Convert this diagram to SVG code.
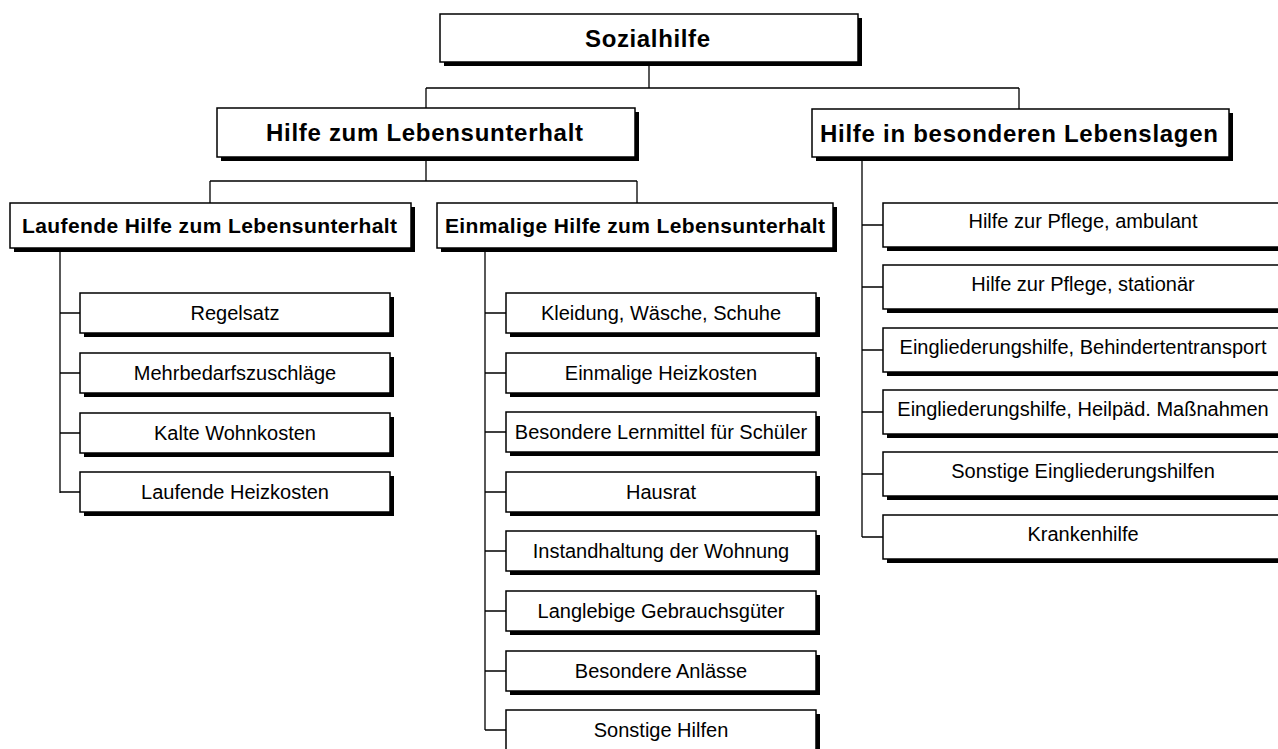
<svg xmlns="http://www.w3.org/2000/svg" width="1278" height="749" viewBox="0 0 1278 749">
<style>
.box{fill:#fff;stroke:#000;stroke-width:1.5}
.sh{fill:#000}
.t{font-family:"Liberation Sans",Arial,sans-serif;fill:#000;text-anchor:middle}
.b{font-weight:bold}
.c{font-size:20px}
.con{fill:none;stroke:#000;stroke-width:1.3}
</style>
<rect width="1278" height="749" fill="#fff"/>
<g id="connectors">
<path class="con" d="M649 62V88M426 88H1019M426 88V108M1019 88V109"/>
<path class="con" d="M426 157V181M210 181H637M210 181V203M637 181V203"/>
<path class="con" d="M60 248V493M60 313H80M60 373H80M60 433H80M60 492H80"/>
<path class="con" d="M485 248V730M485 313H506M485 373H506M485 432H506M485 492H506M485 551H506M485 611H506M485 671H506M485 730H506"/>
<path class="con" d="M862 157V537M862 225H883M862 287H883M862 350H883M862 412H883M862 474H883M862 537H883"/>
</g>
<g id="n-sozialhilfe">
<rect class="sh" x="444" y="18" width="418" height="48"/>
<rect class="box" x="440" y="14" width="418" height="48"/>
<text class="t b" x="647.5" y="47" font-size="24" textLength="125" lengthAdjust="spacing">Sozialhilfe</text>
</g>
<g id="n-hzl">
<rect class="sh" x="221" y="112" width="418" height="49"/>
<rect class="box" x="217" y="108" width="418" height="49"/>
<text class="t b" x="424.5" y="141" font-size="24" textLength="317" lengthAdjust="spacing">Hilfe zum Lebensunterhalt</text>
</g>
<g id="n-hbl">
<rect class="sh" x="816" y="113" width="417" height="48"/>
<rect class="box" x="812" y="109" width="417" height="48"/>
<text class="t b" x="1019" y="141.5" font-size="24" textLength="398" lengthAdjust="spacing">Hilfe in besonderen Lebenslagen</text>
</g>
<g id="n-laufende">
<rect class="sh" x="14" y="207" width="401" height="45"/>
<rect class="box" x="10" y="203" width="401" height="45"/>
<text class="t b" x="209.5" y="233" font-size="21" textLength="375" lengthAdjust="spacing">Laufende Hilfe zum Lebensunterhalt</text>
</g>
<g id="n-einmalige">
<rect class="sh" x="441" y="207" width="396" height="45"/>
<rect class="box" x="437" y="203" width="396" height="45"/>
<text class="t b" x="635" y="233" font-size="21" textLength="380" lengthAdjust="spacing">Einmalige Hilfe zum Lebensunterhalt</text>
</g>
<g id="n-regelsatz"><rect class="sh" x="84" y="297" width="310" height="40"/><rect class="box" x="80" y="293" width="310" height="40"/><text class="t c" x="235" y="320">Regelsatz</text></g>
<g id="n-mehrbedarf"><rect class="sh" x="84" y="357" width="310" height="40"/><rect class="box" x="80" y="353" width="310" height="40"/><text class="t c" x="235" y="380">Mehrbedarfszuschläge</text></g>
<g id="n-kalte"><rect class="sh" x="84" y="417" width="310" height="40"/><rect class="box" x="80" y="413" width="310" height="40"/><text class="t c" x="235" y="440">Kalte Wohnkosten</text></g>
<g id="n-lheiz"><rect class="sh" x="84" y="476" width="310" height="40"/><rect class="box" x="80" y="472" width="310" height="40"/><text class="t c" x="235" y="499">Laufende Heizkosten</text></g>
<g id="n-kleidung"><rect class="sh" x="510" y="297" width="310" height="40"/><rect class="box" x="506" y="293" width="310" height="40"/><text class="t c" x="661" y="320">Kleidung, Wäsche, Schuhe</text></g>
<g id="n-eheiz"><rect class="sh" x="510" y="357" width="310" height="40"/><rect class="box" x="506" y="353" width="310" height="40"/><text class="t c" x="661" y="380">Einmalige Heizkosten</text></g>
<g id="n-lernmittel"><rect class="sh" x="510" y="416" width="310" height="40"/><rect class="box" x="506" y="412" width="310" height="40"/><text class="t c" x="661" y="439">Besondere Lernmittel für Schüler</text></g>
<g id="n-hausrat"><rect class="sh" x="510" y="476" width="310" height="40"/><rect class="box" x="506" y="472" width="310" height="40"/><text class="t c" x="661" y="499">Hausrat</text></g>
<g id="n-instand"><rect class="sh" x="510" y="535" width="310" height="40"/><rect class="box" x="506" y="531" width="310" height="40"/><text class="t c" x="661" y="558">Instandhaltung der Wohnung</text></g>
<g id="n-langlebig"><rect class="sh" x="510" y="595" width="310" height="40"/><rect class="box" x="506" y="591" width="310" height="40"/><text class="t c" x="661" y="618">Langlebige Gebrauchsgüter</text></g>
<g id="n-anlaesse"><rect class="sh" x="510" y="655" width="310" height="40"/><rect class="box" x="506" y="651" width="310" height="40"/><text class="t c" x="661" y="678">Besondere Anlässe</text></g>
<g id="n-sonstige"><rect class="sh" x="510" y="714" width="310" height="40"/><rect class="box" x="506" y="710" width="310" height="40"/><text class="t c" x="661" y="737">Sonstige Hilfen</text></g>
<g id="n-pflege-amb"><rect class="sh" x="887" y="207" width="400" height="44"/><rect class="box" x="883" y="203" width="400" height="44"/><text class="t c" x="1083" y="228">Hilfe zur Pflege, ambulant</text></g>
<g id="n-pflege-stat"><rect class="sh" x="887" y="269" width="400" height="44"/><rect class="box" x="883" y="265" width="400" height="44"/><text class="t c" x="1083" y="291">Hilfe zur Pflege, stationär</text></g>
<g id="n-eh-transport"><rect class="sh" x="887" y="332" width="400" height="44"/><rect class="box" x="883" y="328" width="400" height="44"/><text class="t c" x="1083" y="354">Eingliederungshilfe, Behindertentransport</text></g>
<g id="n-eh-heilpaed"><rect class="sh" x="887" y="394" width="400" height="44"/><rect class="box" x="883" y="390" width="400" height="44"/><text class="t c" x="1083" y="416">Eingliederungshilfe, Heilpäd. Maßnahmen</text></g>
<g id="n-eh-sonstige"><rect class="sh" x="887" y="456" width="400" height="44"/><rect class="box" x="883" y="452" width="400" height="44"/><text class="t c" x="1083" y="478">Sonstige Eingliederungshilfen</text></g>
<g id="n-krankenhilfe"><rect class="sh" x="887" y="519" width="400" height="44"/><rect class="box" x="883" y="515" width="400" height="44"/><text class="t c" x="1083" y="541">Krankenhilfe</text></g>
</svg>
